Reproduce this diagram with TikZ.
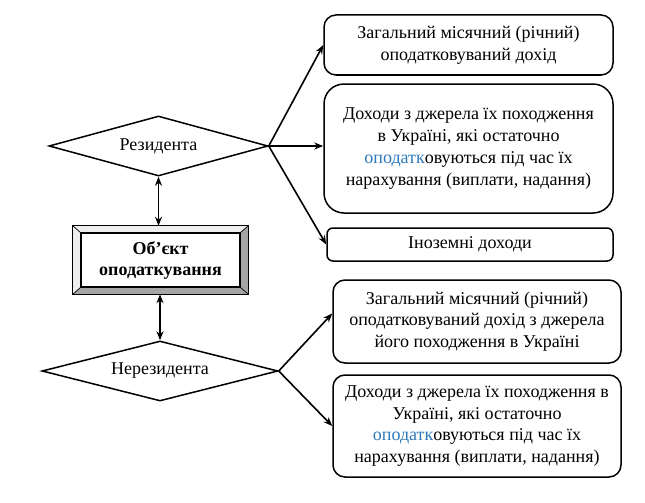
\documentclass[tikz,border=0pt]{standalone}
\usepackage{fontspec}
\setmainfont{Liberation Serif}
\usetikzlibrary{shapes.geometric,arrows.meta,calc}
\definecolor{txtblue}{RGB}{45,120,185}
\definecolor{bevdark}{RGB}{165,165,165}
\definecolor{bevlight}{RGB}{238,238,238}
\pgfdeclarelayer{bg}
\pgfsetlayers{bg,main}
\begin{document}
\begin{tikzpicture}[x=1pt,y=-1pt,
  txt/.style={font=\fontsize{18}{21.7}\selectfont},
  rbox/.style={txt, draw, line width=1.5pt, rounded corners=12pt, align=center, inner sep=0pt},
  dia/.style={txt, draw, diamond, line width=1.5pt, inner sep=0pt},
  arr/.style={-{Stealth[length=9pt,width=7pt]}, line width=1.6pt},
  darr/.style={{Stealth[length=9pt,width=7pt]}-{Stealth[length=9pt,width=7pt]}, line width=1.6pt}]
\useasboundingbox (0,0) rectangle (645,503);

% right-hand boxes
\node[rbox, minimum width=289pt, minimum height=60pt] (b1) at (468.5,45)
  {Загальний місячний (річний)\\оподатковуваний дохід};
\node[rbox, rounded corners=20pt, minimum width=289pt, minimum height=129pt] (b2) at (468.5,148.5)
  {Доходи з джерела їх походження\\в Україні, які остаточно\\{\color{txtblue}оподатк}овуються під час їх\\нарахування (виплати, надання)};
\node[rbox, rounded corners=6pt, minimum width=286pt, minimum height=33pt] (b3) at (470,244.5)
  {Іноземні доходи};
\node[rbox, minimum width=288pt, minimum height=83pt] (b4) at (477,321.5)
  {Загальний місячний (річний)\\оподатковуваний дохід з джерела\\його походження в Україні};
\node[rbox, minimum width=288pt, minimum height=102pt] (b5) at (477,426)
  {Доходи з джерела їх походження в\\Україні, які остаточно\\{\color{txtblue}оподатк}овуються під час їх\\нарахування (виплати, надання)};

% diamonds
\node[dia, aspect=3.65, minimum width=219pt, minimum height=60pt] (d1) at (158.5,146) {Резидента};
\node[dia, aspect=3.93, minimum width=236pt, minimum height=60pt] (d2) at (160,371) {Нерезидента};

% object box
\node[txt, font=\fontsize{18}{21}\selectfont\bfseries, align=center, inner sep=0pt,
      minimum width=175pt, minimum height=68pt] (obj) at (160.5,260) {Об’єкт\\оподаткування};
\begin{pgfonlayer}{bg}
  \coordinate (o1) at (obj.north west);
  \coordinate (o2) at (obj.north east);
  \coordinate (o3) at (obj.south east);
  \coordinate (o4) at (obj.south west);
  \coordinate (i1) at ($(obj.north west)+(8,7)$);
  \coordinate (i2) at ($(obj.north east)+(-8,7)$);
  \coordinate (i3) at ($(obj.south east)+(-8,-7)$);
  \coordinate (i4) at ($(obj.south west)+(8,-7)$);
  \fill[bevlight] (o1) -- (o2) -- (i2) -- (i1) -- cycle;
  \fill[bevlight] (o1) -- (i1) -- (i4) -- (o4) -- cycle;
  \fill[bevdark] (o2) -- (o3) -- (i3) -- (i2) -- cycle;
  \fill[bevdark] (o4) -- (i4) -- (i3) -- (o3) -- cycle;
  \fill[white] (i1) rectangle (i3);
  \draw[line width=1pt] (o1) rectangle (o3);
  \draw[line width=0.7pt] (o1) -- (i1) (o2) -- (i2) (o3) -- (i3) (o4) -- (i4);
  \draw[line width=1.8pt] (i1) rectangle (i3);
\end{pgfonlayer}

% connectors
\draw[arr] (d1.east) -- (b1.west);
\draw[arr] (d1.east) -- (d1.east -| b2.west);
\draw[arr] (d1.east) -- (b3.west);
\draw[darr] (d1.south) -- (d1.south |- obj.north);
\draw[darr] (d2.north |- obj.south) -- (d2.north);
\coordinate (b4in) at ($(b4.west)+(0,-8)$);
\draw[arr] (d2.east) -- (b4in);
\draw[arr] (d2.east) -- (b5.west);
\end{tikzpicture}
\end{document}
